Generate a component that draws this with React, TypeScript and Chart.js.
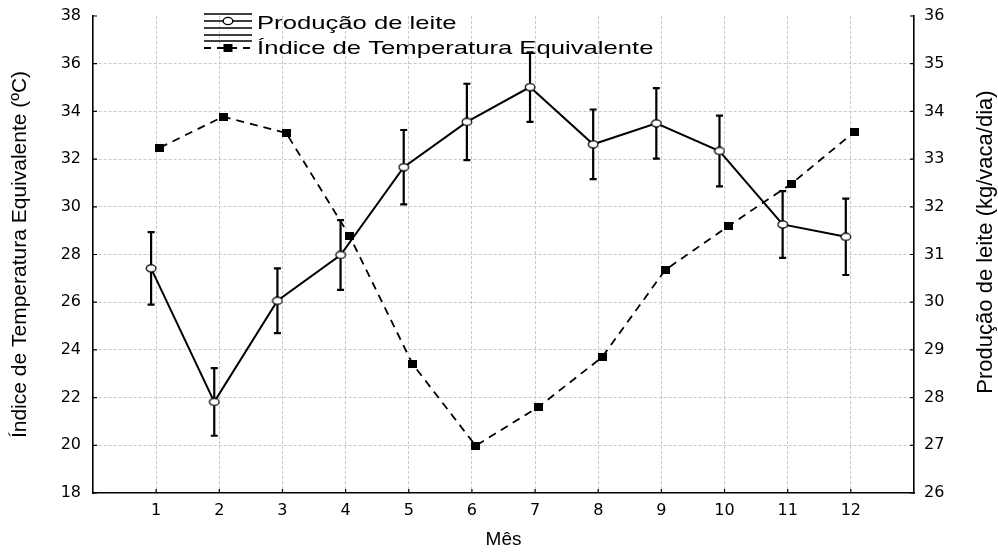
import React, { useEffect, useRef } from "react";
import { Chart, registerables } from "chart.js";

Chart.register(...registerables);

// ---- data ----
const months = [1, 2, 3, 4, 5, 6, 7, 8, 9, 10, 11, 12];
const producao = [30.71, 27.91, 30.03, 30.99, 32.83, 33.78, 34.51, 33.31, 33.75, 33.17, 31.63, 31.37];
const producaoErr = [0.76, 0.71, 0.68, 0.73, 0.78, 0.8, 0.73, 0.73, 0.74, 0.74, 0.7, 0.8];
const ite = [32.48, 33.78, 33.09, 28.79, 23.41, 19.98, 21.62, 23.69, 27.35, 29.19, 30.97, 33.15];
const leftMin = 18;
const leftMax = 38;
const leftStep = 2;
const rightMin = 26;
const rightMax = 36;
const rightStep = 1;
const seriesNames = ["Produção de leite", "Índice de Temperatura Equivalente"];
const xTitle = "Mês";
const leftTitle = "Índice de Temperatura Equivalente (ºC)";
const rightTitle = "Produção de leite (kg/vaca/dia)";

const PROD_SHIFT = -0.08;
const ITE_SHIFT = 0.06;
const FONT = '"Liberation Sans", Arial, sans-serif';

function makeCircle() {
  const c = document.createElement("canvas");
  c.width = 12;
  c.height = 9;
  const g = c.getContext("2d")!;
  g.fillStyle = "#fff";
  g.strokeStyle = "#000";
  g.lineWidth = 1.2;
  g.beginPath();
  g.ellipse(6, 4.5, 4.8, 3.6, 0, 0, Math.PI * 2);
  g.fill();
  g.stroke();
  return c;
}

function makeSquare() {
  const c = document.createElement("canvas");
  c.width = 9;
  c.height = 8;
  const g = c.getContext("2d")!;
  g.fillStyle = "#000";
  g.fillRect(0, 0, 9, 8);
  return c;
}

const errorBarsPlugin = {
  id: "errorBars",
  beforeDatasetsDraw(chart: any) {
    const { ctx, scales } = chart;
    const x = scales.x;
    const y1 = scales.y1;
    ctx.save();
    ctx.strokeStyle = "#000";
    ctx.lineWidth = 2.2;
    months.forEach((m, i) => {
      const px = x.getPixelForValue(m + PROD_SHIFT);
      const top = y1.getPixelForValue(producao[i] + producaoErr[i]);
      const bot = y1.getPixelForValue(producao[i] - producaoErr[i]);
      ctx.beginPath();
      ctx.moveTo(px, top);
      ctx.lineTo(px, bot);
      ctx.moveTo(px - 3.5, top);
      ctx.lineTo(px + 3.5, top);
      ctx.moveTo(px - 3.5, bot);
      ctx.lineTo(px + 3.5, bot);
      ctx.stroke();
    });
    ctx.restore();
  },
};

const decorPlugin = {
  id: "decor",
  afterDraw(chart: any) {
    const { ctx, scales, chartArea } = chart;
    const { x, y, y1 } = scales;
    ctx.save();
    // inward tick marks
    ctx.strokeStyle = "#000";
    ctx.lineWidth = 1.2;
    ctx.beginPath();
    x.ticks.forEach((t: any) => {
      const px = x.getPixelForValue(t.value);
      ctx.moveTo(px, chartArea.bottom);
      ctx.lineTo(px, chartArea.bottom - 4);
    });
    y.ticks.forEach((t: any) => {
      const py = y.getPixelForValue(t.value);
      ctx.moveTo(chartArea.left, py);
      ctx.lineTo(chartArea.left + 4, py);
    });
    y1.ticks.forEach((t: any) => {
      const py = y1.getPixelForValue(t.value);
      ctx.moveTo(chartArea.right, py);
      ctx.lineTo(chartArea.right - 4, py);
    });
    ctx.stroke();

    // right axis title (reads bottom to top)
    ctx.fillStyle = "#000";
    ctx.font = "22px " + FONT;
    ctx.textAlign = "center";
    ctx.textBaseline = "middle";
    ctx.save();
    ctx.translate(986, 242);
    ctx.rotate(-Math.PI / 2);
    ctx.fillText(rightTitle, 0, 0);
    ctx.restore();

    // legend
    const sx0 = 204;
    const sx1 = 252;
    const mid = (sx0 + sx1) / 2;
    ctx.strokeStyle = "#000";
    ctx.lineWidth = 1.4;
    // entry 1
    ctx.beginPath();
    [14, 21, 28].forEach((ly) => {
      ctx.moveTo(sx0, ly);
      ctx.lineTo(sx1, ly);
    });
    ctx.stroke();
    ctx.beginPath();
    ctx.fillStyle = "#fff";
    ctx.ellipse(mid, 21, 4.8, 3.6, 0, 0, Math.PI * 2);
    ctx.fill();
    ctx.stroke();
    // entry 2
    ctx.beginPath();
    [35, 41].forEach((ly) => {
      ctx.moveTo(sx0, ly);
      ctx.lineTo(sx1, ly);
    });
    ctx.stroke();
    ctx.save();
    ctx.lineWidth = 1.8;
    ctx.setLineDash([7, 6]);
    ctx.beginPath();
    ctx.moveTo(sx0, 48);
    ctx.lineTo(sx1, 48);
    ctx.stroke();
    ctx.restore();
    ctx.fillStyle = "#000";
    ctx.fillRect(mid - 4.5, 44, 9, 8);

    ctx.font = "19px " + FONT;
    ctx.textAlign = "left";
    ctx.textBaseline = "alphabetic";
    [29, 54].forEach((by, i) => {
      ctx.save();
      ctx.translate(257, by);
      ctx.scale(1.35, 1);
      ctx.fillText(seriesNames[i], 0, 0);
      ctx.restore();
    });
    ctx.restore();
  },
};

export default function App() {
  const ref = useRef<HTMLCanvasElement | null>(null);

  useEffect(() => {
    if (!ref.current) return;
    const circle = makeCircle();
    const square = makeSquare();
    const gridColor = "#c8c8c8";
    const tickFont = { family: '"DejaVu Sans", sans-serif', size: 16 };

    const chart = new Chart(ref.current, {
      type: "line",
      data: {
        datasets: [
          {
            label: seriesNames[0],
            data: months.map((m, i) => ({ x: m + PROD_SHIFT, y: producao[i] })),
            yAxisID: "y1",
            borderColor: "#000",
            borderWidth: 2,
            pointStyle: circle as any,
            pointRadius: 5,
            pointHoverRadius: 5,
            tension: 0,
            fill: false,
          },
          {
            label: seriesNames[1],
            data: months.map((m, i) => ({ x: m + ITE_SHIFT, y: ite[i] })),
            yAxisID: "y",
            borderColor: "#000",
            borderWidth: 1.8,
            borderDash: [8, 6],
            pointStyle: square as any,
            pointRadius: 4,
            pointHoverRadius: 4,
            tension: 0,
            fill: false,
          },
        ],
      },
      options: {
        responsive: false,
        animation: false,
        events: [],
        layout: { padding: { top: 16, left: 0, right: 0, bottom: 0 } },
        plugins: {
          legend: { display: false },
          tooltip: { enabled: false },
        },
        scales: {
          x: {
            type: "linear",
            min: 0,
            max: 13,
            afterBuildTicks: (s: any) => {
              s.ticks = months.map((v) => ({ value: v }));
            },
            afterFit: (s: any) => {
              s.height = 61;
              s.paddingLeft = 0;
              s.paddingRight = 0;
            },
            ticks: {
              color: "#000",
              font: tickFont,
              padding: 8,
              maxRotation: 0,
              autoSkip: false,
              callback: (v: any) => String(v),
            },
            grid: { color: gridColor, lineWidth: 1, drawTicks: false },
            border: { display: true, color: "#000", width: 1.6, dash: [3, 2] },
            title: {
              display: true,
              text: xTitle,
              color: "#000",
              font: { family: FONT, size: 19 },
              padding: { top: 0, bottom: 3 },
            },
          },
          y: {
            type: "linear",
            position: "left",
            min: leftMin,
            max: leftMax,
            afterFit: (s: any) => {
              s.width = 93;
              s.paddingTop = 0;
              s.paddingBottom = 0;
            },
            ticks: {
              stepSize: leftStep,
              color: "#000",
              font: tickFont,
              padding: 12,
            },
            grid: {
              color: (c: any) =>
                c.tick && (c.tick.value === leftMin || c.tick.value === leftMax)
                  ? "rgba(0,0,0,0)"
                  : gridColor,
              lineWidth: 1,
              drawTicks: false,
            },
            border: { display: true, color: "#000", width: 1.6, dash: [3, 2] },
            title: {
              display: true,
              text: leftTitle,
              color: "#000",
              font: { family: FONT, size: 21 },
              padding: { top: 8, bottom: 0 },
            },
          },
          y1: {
            type: "linear",
            position: "right",
            min: rightMin,
            max: rightMax,
            afterFit: (s: any) => {
              s.width = 84;
              s.paddingTop = 0;
              s.paddingBottom = 0;
            },
            ticks: {
              stepSize: rightStep,
              color: "#000",
              font: tickFont,
              padding: 10,
            },
            grid: { display: true, drawOnChartArea: false, drawTicks: false },
            border: { display: true, color: "#000", width: 1.6 },
          },
        },
      },
      plugins: [errorBarsPlugin, decorPlugin],
    } as any);

    return () => chart.destroy();
  }, []);

  return (
    <div style={{ position: "absolute", left: 0, top: 0, width: 998, height: 554, background: "#fff" }}>
      <canvas ref={ref} width={998} height={554} style={{ display: "block" }} />
    </div>
  );
}
